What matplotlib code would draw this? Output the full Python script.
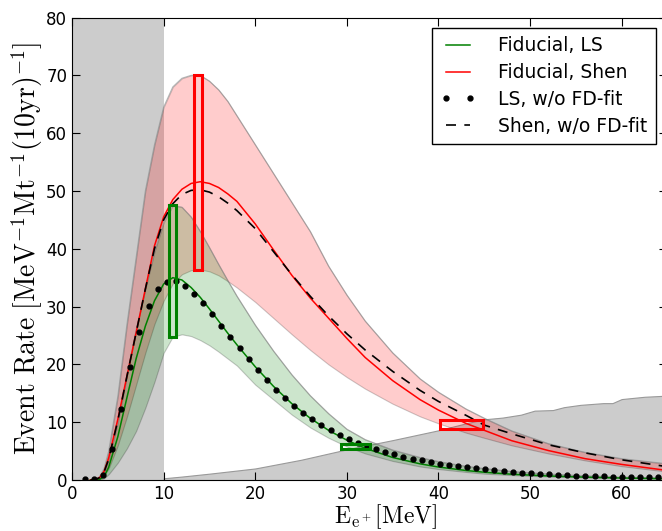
import matplotlib
matplotlib.use('Agg')
import matplotlib.pyplot as plt
from matplotlib.patches import Rectangle
import numpy as np

plt.rcParams['mathtext.fontset'] = 'cm'

# common energy grid for the curves [MeV]
energy = [2, 2.5, 3, 3.5, 4, 5, 6, 7, 8, 9, 10, 11, 12, 13, 14, 15, 16, 17, 18,
          20, 22, 24, 26, 28, 30, 32, 35, 38, 40, 43, 45, 48, 52, 56, 60, 65]

fid_ls = [0, 0, 0.1, 0.6, 2.2, 7.5, 14.3, 21, 26.6, 31, 33.9, 35.0, 34.6, 33.3, 31.6, 29.6,
          27.5, 25.4, 23.4, 19.6, 16.2, 13.2, 10.7, 8.6, 6.9, 5.5, 3.9, 2.8, 2.25, 1.65,
          1.35, 1.0, 0.7, 0.5, 0.35, 0.22]
ls_hi = [0, 0, 0.3, 1.2, 3.5, 10, 18, 26, 33, 39.5, 44.5, 47.5, 47.2, 45.5, 43, 40.2,
         37.3, 34.5, 31.8, 26.8, 22.3, 18.2, 14.6, 11.5, 8.8, 7.0, 5.2, 3.9, 3.2, 2.4,
         2.0, 1.5, 1.05, 0.75, 0.5, 0.35]
ls_lo = [0, 0, 0, 0.3, 1, 3, 5.5, 8.5, 12.5, 17, 22, 24.8, 25.2, 24.9, 24.2, 23.3,
         22.2, 21, 19.8, 16.5, 13.9, 11.3, 9.1, 7.3, 5.8, 4.6, 3.3, 2.35, 1.9, 1.4,
         1.1, 0.85, 0.6, 0.42, 0.3, 0.18]

fid_shen = [0, 0.05, 0.4, 1.5, 3.8, 10.5, 18, 25.5, 33, 40.5, 45.5, 48.5, 50.3, 51.3,
            51.6, 51.3, 50.6, 49.5, 48.2, 44.3, 39.8, 35.4, 31.5, 28, 24.5, 21.2, 17.2,
            13.9, 12.1, 9.8, 8.6, 6.8, 5.1, 3.7, 2.7, 1.65]
shen_hi = [0, 0.1, 0.6, 2, 5, 14.5, 27, 38.5, 50, 58, 64.5, 68, 69.5, 70, 70, 69, 67.5,
           65.5, 63, 58, 53, 48, 43, 37, 32, 27.5, 22, 17.5, 15.2, 12.3, 10.7, 8.5,
           6.3, 4.8, 3.7, 2.8]
shen_lo = [0, 0, 0.2, 0.8, 2, 6, 11, 16.5, 22, 27, 31, 34, 35.6, 36.3, 36.4, 36.1, 35.4,
           34.4, 33.3, 30.8, 28, 25.2, 22.5, 20, 17.8, 15.8, 13.2, 11, 9.8, 8.2, 7.3,
           6.0, 4.6, 3.4, 2.4, 1.45]

shen_nofit = [0, 0.05, 0.4, 1.4, 3.6, 10.3, 18, 25.5, 33, 40, 45, 47.8, 49.4, 50.1, 50.2,
              49.8, 49, 47.9, 46.6, 43.5, 39.5, 35.5, 31.8, 28.4, 25.3, 22.5, 18.8, 15.5,
              13.6, 11.2, 9.5, 8.0, 6.1, 4.7, 3.5, 2.3]

# LS without FD fit (points)
ls_nofit_x = np.linspace(1.4, 64.0, 64)
ls_nofit = [0.1, 0.1, 0.9, 5.3, 12.2, 19.6, 25.6, 30.1, 33.0, 34.3, 34.4, 33.6, 32.2, 30.7,
            28.8, 26.7, 24.7, 22.8, 20.9, 19.0, 17.25, 15.6, 14.2, 12.85, 11.6, 10.55, 9.57,
            8.65, 7.84, 7.15, 6.45, 5.88, 5.36, 4.84, 4.44, 4.03, 3.69, 3.41, 3.11, 2.82,
            2.54, 2.37, 2.25, 2.08, 1.85, 1.68, 1.56, 1.38, 1.27, 1.15, 1.09, 0.98, 0.91,
            0.87, 0.78, 0.74, 0.69, 0.63, 0.59, 0.55, 0.52, 0.49, 0.47, 0.45]

# background (gray) above 10 MeV
bkg_x = [10, 12, 15, 20, 22, 25, 30, 35, 40, 43, 45, 47, 49, 50.5, 52.5, 53.7, 55.5, 58,
         59, 60, 62.5, 65]
bkg_y = [0.3, 0.6, 1.1, 2.0, 2.6, 3.5, 5.3, 6.9, 8.6, 9.8, 10.5, 10.8, 11.3, 12.0, 12.1,
         12.6, 13.0, 13.3, 13.3, 14.0, 14.4, 14.6]

# error boxes: (x0, x1, y0, y1)
ls_boxes = [(10.6, 11.35, 24.8, 47.5), (29.4, 32.5, 5.3, 6.2)]
shen_boxes = [(13.35, 14.2, 36.3, 70.0), (40.15, 44.9, 8.8, 10.3)]

fig = plt.figure(figsize=(6.62, 5.31), dpi=100)
ax = fig.add_axes([0.1088, 0.096, 0.8994, 0.871])

ax.axvspan(0, 10, color='0.8', lw=0, zorder=0)
ax.fill_between(bkg_x, 0, bkg_y, facecolor='0.8', edgecolor='0.6', lw=0.8, zorder=0)

ax.fill_between(energy, shen_lo, shen_hi, facecolor='red', alpha=0.2,
                edgecolor='k', lw=0.8, zorder=1)
ax.fill_between(energy, ls_lo, ls_hi, facecolor='green', alpha=0.2,
                edgecolor='k', lw=0.8, zorder=1)
# gray edges for bands
ax.plot(energy, shen_hi, color='0.55', lw=0.8, alpha=0.6, zorder=1)
ax.plot(energy, ls_hi, color='0.55', lw=0.8, alpha=0.6, zorder=1)

ax.plot(energy, fid_ls, color='green', lw=1.1, label='Fiducial, LS', zorder=3)
ax.plot(energy, fid_shen, color='red', lw=1.1, label='Fiducial, Shen', zorder=3)
ax.plot(ls_nofit_x, ls_nofit, 'k.', ms=7, label='LS, w/o FD-fit', zorder=4)
ax.plot(energy, shen_nofit, 'k--', lw=1.2, dashes=(6, 5), label='Shen, w/o FD-fit', zorder=4)

for x0, x1, y0, y1 in ls_boxes:
    ax.add_patch(Rectangle((x0, y0), x1 - x0, y1 - y0, fill=False,
                           edgecolor='green', lw=2.2, zorder=5))
for x0, x1, y0, y1 in shen_boxes:
    ax.add_patch(Rectangle((x0, y0), x1 - x0, y1 - y0, fill=False,
                           edgecolor='red', lw=2.2, zorder=5))

ax.set_xlim(0, 65)
ax.set_ylim(0, 80)
ax.set_xticks(range(0, 61, 10))
ax.set_yticks(range(0, 81, 10))
ax.tick_params(direction='in', top=True, right=True, labelsize=12, length=6)

ax.set_xlabel(r'$\mathrm{E_{e^+}[MeV]}$', fontsize=17)
ax.xaxis.set_label_coords(0.526, -0.049)
ax.set_ylabel(r'$\mathrm{Event\ Rate\ [MeV^{-1}Mt^{-1}(10yr)^{-1}]}$', fontsize=20, labelpad=1)

leg = ax.legend(loc='upper right', bbox_to_anchor=(0.9905, 0.99), fontsize=13.5,
                numpoints=2, fancybox=False, framealpha=1, handlelength=1.9,
                borderpad=0.45, labelspacing=0.42, handletextpad=1.2, borderaxespad=0.3)
leg.get_frame().set_edgecolor('k')

fig.savefig('out.png', dpi=100)
